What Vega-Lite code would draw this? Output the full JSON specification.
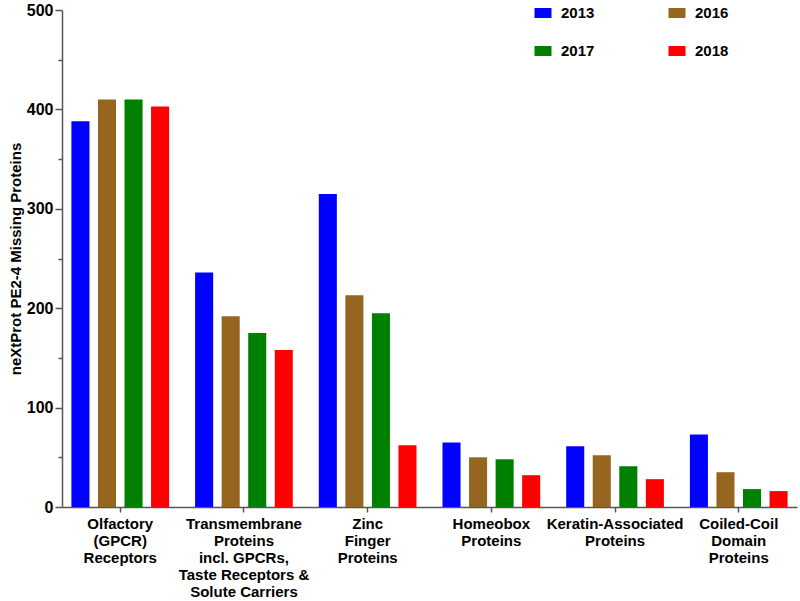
{
  "$schema": "https://vega.github.io/schema/vega-lite/v6.json",
  "width": 735,
  "height": 497,
  "autosize": {"type": "none"},
  "padding": {"left": 62, "top": 10, "right": 3, "bottom": 94},
  "background": "white",
  "config": {
    "font": "Liberation Sans",
    "view": {"stroke": null},
    "axis": {"grid": false, "domainColor": "#555555", "domainWidth": 1.5, "tickColor": "#555555", "tickWidth": 1.5}
  },
  "data": {
    "values": [
      {"category": "Olfactory (GPCR) Receptors", "year": "2013", "count": 388},
      {"category": "Olfactory (GPCR) Receptors", "year": "2016", "count": 410},
      {"category": "Olfactory (GPCR) Receptors", "year": "2017", "count": 410},
      {"category": "Olfactory (GPCR) Receptors", "year": "2018", "count": 403},
      {"category": "Transmembrane Proteins incl. GPCRs, Taste Receptors & Solute Carriers", "year": "2013", "count": 236},
      {"category": "Transmembrane Proteins incl. GPCRs, Taste Receptors & Solute Carriers", "year": "2016", "count": 192},
      {"category": "Transmembrane Proteins incl. GPCRs, Taste Receptors & Solute Carriers", "year": "2017", "count": 175},
      {"category": "Transmembrane Proteins incl. GPCRs, Taste Receptors & Solute Carriers", "year": "2018", "count": 158},
      {"category": "Zinc Finger Proteins", "year": "2013", "count": 315},
      {"category": "Zinc Finger Proteins", "year": "2016", "count": 213},
      {"category": "Zinc Finger Proteins", "year": "2017", "count": 195},
      {"category": "Zinc Finger Proteins", "year": "2018", "count": 62},
      {"category": "Homeobox Proteins", "year": "2013", "count": 65},
      {"category": "Homeobox Proteins", "year": "2016", "count": 50},
      {"category": "Homeobox Proteins", "year": "2017", "count": 48},
      {"category": "Homeobox Proteins", "year": "2018", "count": 32},
      {"category": "Keratin-Associated Proteins", "year": "2013", "count": 61},
      {"category": "Keratin-Associated Proteins", "year": "2016", "count": 52},
      {"category": "Keratin-Associated Proteins", "year": "2017", "count": 41},
      {"category": "Keratin-Associated Proteins", "year": "2018", "count": 28},
      {"category": "Coiled-Coil Domain Proteins", "year": "2013", "count": 73},
      {"category": "Coiled-Coil Domain Proteins", "year": "2016", "count": 35},
      {"category": "Coiled-Coil Domain Proteins", "year": "2017", "count": 18},
      {"category": "Coiled-Coil Domain Proteins", "year": "2018", "count": 16}
    ]
  },
  "mark": {"type": "bar"},
  "encoding": {
    "x": {
      "field": "category",
      "type": "nominal",
      "sort": null,
      "scale": {"paddingInner": 0.21, "paddingOuter": 0.076},
      "axis": {
        "title": null,
        "labelAngle": 0,
        "labelFont": "Liberation Sans",
        "labelFontWeight": "bold",
        "labelFontSize": 15,
        "labelColor": "black",
        "labelPadding": 4,
        "labelLineHeight": 17,
        "labelBaseline": "top",
        "tickSize": 5,
        "labelExpr": "datum.value == 'Olfactory (GPCR) Receptors' ? ['Olfactory', '(GPCR)', 'Receptors'] : datum.value == 'Zinc Finger Proteins' ? ['Zinc', 'Finger', 'Proteins'] : datum.value == 'Homeobox Proteins' ? ['Homeobox', 'Proteins'] : datum.value == 'Keratin-Associated Proteins' ? ['Keratin-Associated', 'Proteins'] : datum.value == 'Coiled-Coil Domain Proteins' ? ['Coiled-Coil', 'Domain', 'Proteins'] : ['Transmembrane', 'Proteins', 'incl. GPCRs,', 'Taste Receptors &', 'Solute Carriers']"
      }
    },
    "xOffset": {
      "field": "year",
      "type": "nominal",
      "sort": ["2013", "2016", "2017", "2018"],
      "scale": {"paddingInner": 0.32, "paddingOuter": 0}
    },
    "y": {
      "field": "count",
      "type": "quantitative",
      "scale": {"domain": [0, 500], "nice": false},
      "axis": {
        "title": "neXtProt PE2-4 Missing Proteins",
        "titleFont": "Liberation Sans",
        "titleFontWeight": "bold",
        "titleFontSize": 15,
        "titleColor": "black",
        "titlePadding": 3,
        "values": [0, 50, 100, 150, 200, 250, 300, 350, 400, 450, 500],
        "labelExpr": "datum.value % 100 === 0 ? datum.label : ''",
        "labelFont": "Liberation Sans",
        "labelFontWeight": "bold",
        "labelFontSize": 16,
        "labelColor": "black",
        "labelPadding": 2,
        "tickSize": {"condition": {"test": "datum.value % 100 === 0", "value": 7}, "value": 4}
      }
    },
    "color": {
      "field": "year",
      "type": "nominal",
      "scale": {"domain": ["2013", "2017", "2016", "2018"], "range": ["#0000FF", "#008000", "#966520", "#FF0000"]},
      "legend": {
        "title": null,
        "orient": "none",
        "legendX": 471,
        "legendY": -7,
        "padding": 0,
        "columns": 2,
        "columnPadding": 72,
        "rowPadding": 20,
        "symbolType": "M-0.85,-0.5L0.85,-0.5L0.85,0.5L-0.85,0.5Z",
        "symbolSize": 400,
        "symbolStrokeWidth": 0,
        "labelFont": "Liberation Sans",
        "labelFontWeight": "bold",
        "labelFontSize": 15,
        "labelColor": "black",
        "labelOffset": 8
      }
    }
  }
}
